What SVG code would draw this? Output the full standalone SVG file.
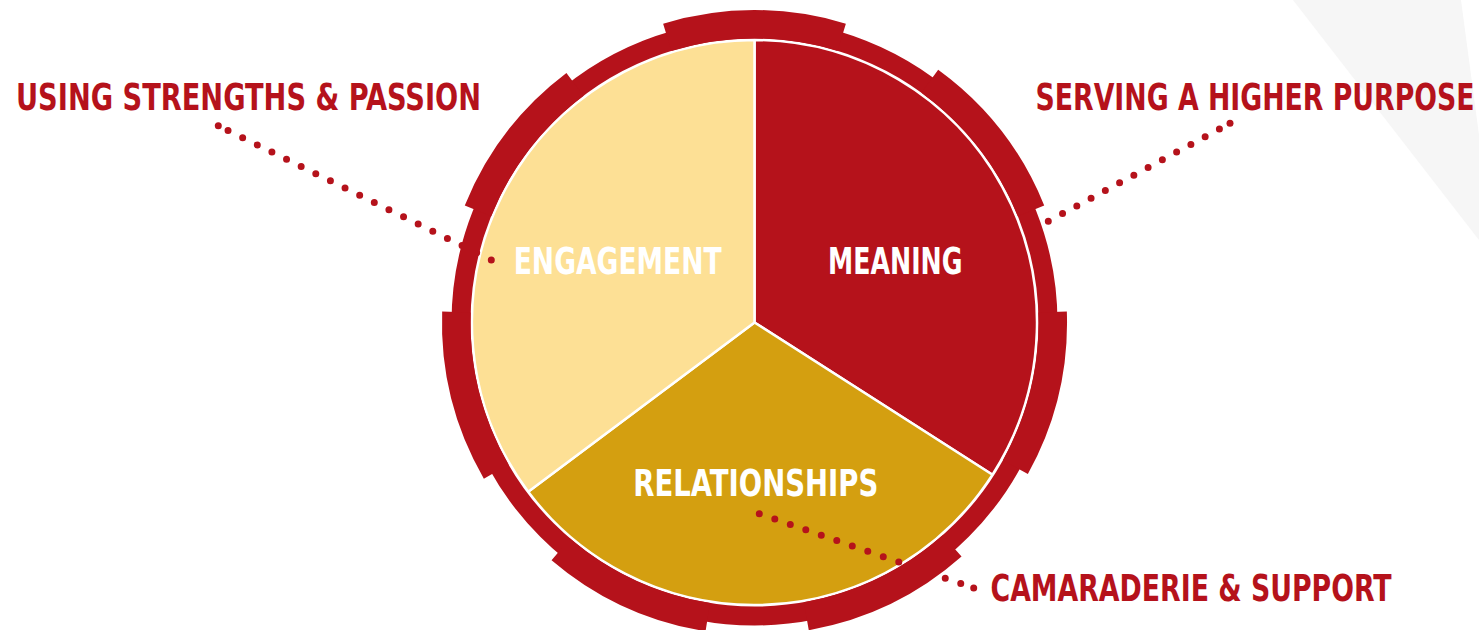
<svg xmlns="http://www.w3.org/2000/svg" width="1479" height="630" viewBox="0 0 1479 630">
  <style>
    .sector { stroke: #FFFFFF; stroke-width: 2.5; stroke-linejoin: round; }
    .inner { font-family: "Liberation Sans Narrow", "DejaVu Sans Condensed", "Liberation Sans", sans-serif; font-weight: bold; font-size: 38px; fill: #FFFFFF; }
    .outer { font-family: "Liberation Sans Narrow", "DejaVu Sans Condensed", "Liberation Sans", sans-serif; font-weight: bold; font-size: 38px; fill: #B5121B; }
    .dots { fill: none; stroke: #B5121B; stroke-width: 7; stroke-linecap: round; }
    .thick { fill: none; stroke: #B5121B; stroke-width: 28.5; stroke-linecap: butt; }
  </style>
  <defs>
    <marker id="dot" markerUnits="userSpaceOnUse" markerWidth="8" markerHeight="8" refX="4" refY="4" overflow="visible">
      <circle cx="4" cy="4" r="3.5" fill="#B5121B"/>
    </marker>
  </defs>
  <rect width="1479" height="630" fill="#FFFFFF"/>
  <polygon points="1293,0 1461,0 1479,135 1479,240" fill="#F6F6F6"/>

  <g id="node-meaning">
    <path class="sector" fill="#B5121B" d="M754.5,322.5 L754.5,40 A282.5,282.5 0 0 1 992.5,474.7 Z"/>
    <text class="inner" x="828" y="274.4" textLength="134.5" lengthAdjust="spacingAndGlyphs">MEANING</text>
  </g>
  <g id="node-relationships">
    <path class="sector" fill="#D49F10" d="M754.5,322.5 L992.5,474.7 A282.5,282.5 0 0 1 528.2,491.7 Z"/>
    <text class="inner" x="633.3" y="495.7" textLength="245" lengthAdjust="spacingAndGlyphs">RELATIONSHIPS</text>
  </g>
  <g id="node-engagement">
    <path class="sector" fill="#FDE095" d="M754.5,322.5 L528.2,491.7 A282.5,282.5 0 0 1 754.5,40 Z"/>
    <text class="inner" x="513.7" y="274.4" textLength="208" lengthAdjust="spacingAndGlyphs">ENGAGEMENT</text>
  </g>

  <g id="connectors">
    <line class="dots" x1="491.3" y1="260" x2="218.3" y2="125.7" stroke-dasharray="0 16.3" marker-end="url(#dot)"/>
    <line class="dots" x1="1048.3" y1="221.3" x2="1230" y2="123.3" stroke-dasharray="0 16.2" marker-end="url(#dot)"/>
    <line class="dots" x1="759.3" y1="513.7" x2="973.7" y2="588" stroke-dasharray="0 16.4" marker-end="url(#dot)"/>
  </g>

  <g id="ring">
    <circle cx="754.5" cy="322.5" r="293.5" fill="none" stroke="#B5121B" stroke-width="19"/>
    <path class="thick" d="M667.3,37.3 A298.25,298.25 0 0 1 841.7,37.3"/>
    <path class="thick" d="M929.8,81.2 A298.25,298.25 0 0 1 1031.0,210.8"/>
    <path class="thick" d="M1052.6,312.1 A298.25,298.25 0 0 1 1015.4,467.1"/>
    <path class="thick" d="M952.1,545.9 A298.25,298.25 0 0 1 806.3,616.2"/>
    <path class="thick" d="M707.8,617.1 A298.25,298.25 0 0 1 560.8,549.3"/>
    <path class="thick" d="M496.2,471.6 A298.25,298.25 0 0 1 456.4,312.1"/>
    <path class="thick" d="M478.0,210.8 A298.25,298.25 0 0 1 575.0,84.3"/>
  </g>

  <g id="label-strengths">
    <text class="outer" x="16" y="110" textLength="465" lengthAdjust="spacingAndGlyphs">USING STRENGTHS &amp; PASSION</text>
  </g>
  <g id="label-purpose">
    <text class="outer" x="1035.5" y="110" textLength="439" lengthAdjust="spacingAndGlyphs">SERVING A HIGHER PURPOSE</text>
  </g>
  <g id="label-camaraderie">
    <text class="outer" x="990.5" y="601" textLength="401" lengthAdjust="spacingAndGlyphs" style="font-size:37px">CAMARADERIE &amp; SUPPORT</text>
  </g>
</svg>
